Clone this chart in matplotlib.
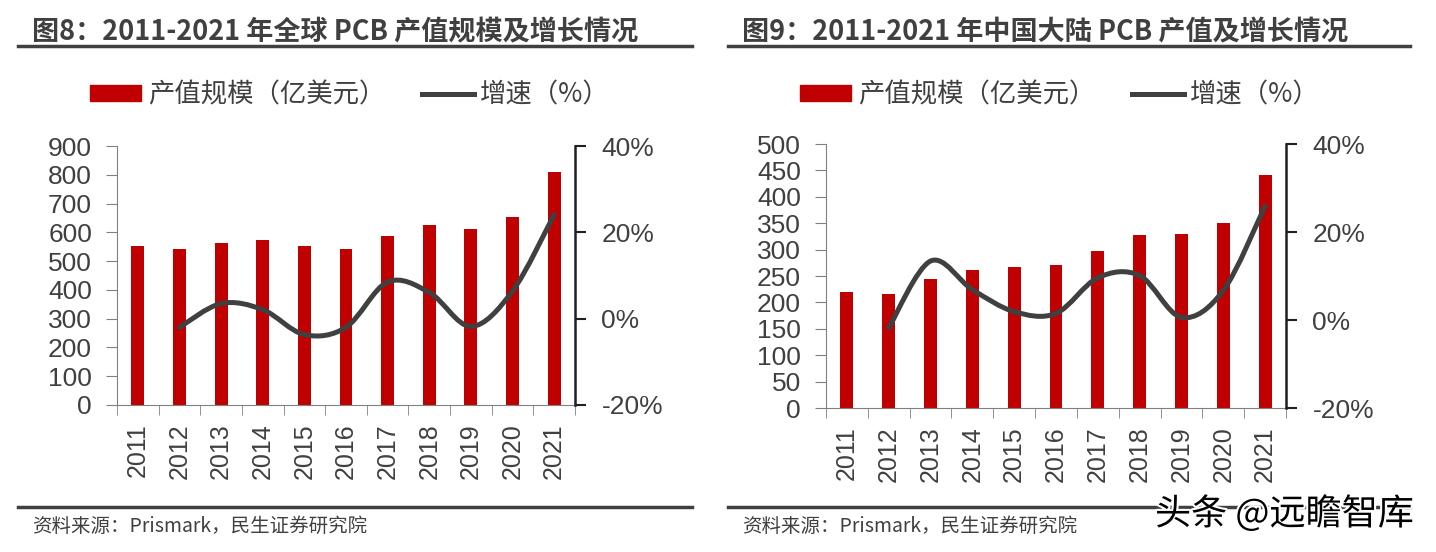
import matplotlib
matplotlib.use("Agg")
import matplotlib.pyplot as plt
import matplotlib.patheffects as pe
import numpy as np
from matplotlib.path import Path
from matplotlib.patches import PathPatch, Patch
from matplotlib.lines import Line2D

plt.rcParams['font.family'] = ['Noto Sans CJK SC', 'DejaVu Sans']

years = ['2011', '2012', '2013', '2014', '2015', '2016', '2017', '2018', '2019', '2020', '2021']

# 图8 global PCB
global_value = [554, 543, 562, 574, 553, 542, 588, 624, 613, 652, 809]
global_growth = [-2.0, 3.5, 2.1, -3.7, -2.0, 8.5, 6.1, -1.8, 6.4, 24.1]  # from 2012

# 图9 mainland China PCB
china_value = [220, 216, 245, 262, 267, 271, 297, 327, 329, 351, 442]
china_growth = [-1.8, 13.4, 6.9, 1.9, 1.5, 9.6, 10.1, 0.6, 6.7, 25.9]  # from 2012

RED = '#C00000'
GREY = '#404040'
W, H = 1436, 552


def smooth_path(x, y):
    # excel-style smoothed line: catmull-rom as cubic bezier
    pts = np.column_stack([x, y]).astype(float)
    verts = [pts[0]]
    codes = [Path.MOVETO]
    n = len(pts)
    for i in range(n - 1):
        p0 = pts[max(i - 1, 0)]
        p1 = pts[i]
        p2 = pts[i + 1]
        p3 = pts[min(i + 2, n - 1)]
        verts += [p1 + (p2 - p0) / 6., p2 - (p3 - p1) / 6., p2]
        codes += [Path.CURVE4] * 3
    return Path(verts, codes)


def draw_panel(fig, rect, values, growth, ymax, ystep, title, tx, rule):
    ax = fig.add_axes(rect)
    x = np.arange(len(years))
    ax.bar(x, values, width=0.31, color=RED, zorder=2)
    ax.set_xlim(-0.5, len(years) - 0.5)
    ax.set_ylim(0, ymax)
    ax.set_yticks(np.arange(0, ymax + 1, ystep))
    ax.set_xticks(x)
    ax.set_xticklabels(years, rotation=90, fontsize=18, color=GREY, family='Liberation Sans')
    ax.set_xticks(np.arange(-0.5, len(years), 1), minor=True)
    ax.tick_params(axis='x', which='major', length=0, pad=13)
    ax.tick_params(axis='x', which='minor', length=7, color='#808080', direction='out')
    ax.tick_params(axis='y', length=8, color='#808080', labelsize=19, labelcolor=GREY, pad=10)
    for lab in ax.get_yticklabels():
        lab.set_family('Liberation Sans')
    for s in ['top', 'right']:
        ax.spines[s].set_visible(False)
    ax.spines['left'].set_color('#808080')
    ax.spines['bottom'].set_color('#808080')

    ax2 = ax.twinx()
    ax2.set_ylim(-20, 40)
    ax2.set_yticks([-20, 0, 20, 40])
    ax2.set_yticklabels(['-20%', '0%', '20%', '40%'], family='Liberation Sans')
    ax2.tick_params(axis='y', length=8, width=1.5, color='#202020', labelsize=19, labelcolor=GREY, pad=11)
    for s in ['top', 'left', 'bottom']:
        ax2.spines[s].set_visible(False)
    ax2.spines['right'].set_color('#202020')
    ax2.spines['right'].set_linewidth(1.8)
    path = smooth_path(x[1:], growth)
    ax2.add_patch(PathPatch(path, fill=False, edgecolor=GREY, lw=3.6, capstyle='round', zorder=3))

    handles = [Patch(color=RED), Line2D([], [], color=GREY, lw=3.6)]
    fig.legend(handles, ['产值规模（亿美元）', '增速（%）'], loc='center',
               bbox_to_anchor=(rect[0] + rect[2] / 2 + 4 / W, 1 - 95 / H), ncol=2, frameon=False,
               fontsize=19, handlelength=1.95, handleheight=0.55, columnspacing=1.4, handletextpad=0.25,
               labelcolor=GREY)

    fig.text(tx / W, 1 - 32 / H, title, fontsize=19.5, fontweight='bold', color=GREY, va='center')
    fig.add_artist(Line2D([rule[0] / W, rule[1] / W], [1 - 46 / H] * 2, color=GREY, lw=2.5))
    fig.add_artist(Line2D([rule[0] / W, rule[1] / W], [1 - 507 / H] * 2, color=GREY, lw=2.5))
    fig.text(tx / W, 1 - 526 / H, '资料来源：Prismark，民生证券研究院', fontsize=14, color=GREY, va='center')
    return ax


fig = plt.figure(figsize=(W / 100, H / 100), dpi=100)
draw_panel(fig, [117 / W, 1 - 405 / H, 458 / W, 259 / H], global_value, global_growth, 900, 100,
           '图8：2011-2021 年全球 PCB 产值规模及增长情况', 32, (18, 692))
draw_panel(fig, [826 / W, 1 - 408 / H, 460 / W, 264 / H], china_value, china_growth, 500, 50,
           '图9：2011-2021 年中国大陆 PCB 产值及增长情况', 742, (728, 1410))

fig.text(1155 / W, 1 - 514 / H, '头条 @远瞻智库', fontsize=26, color='black', va='center',
         path_effects=[pe.withStroke(linewidth=3, foreground='white')])

fig.savefig('out.png', dpi=100)
